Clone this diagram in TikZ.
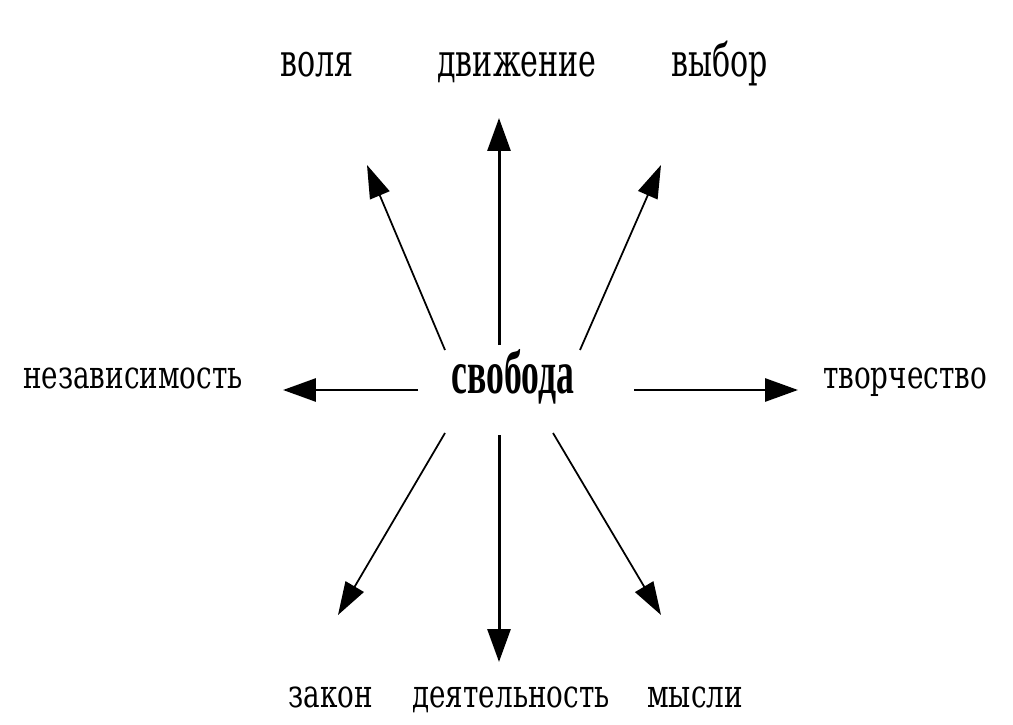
\documentclass[tikz,border=0pt]{standalone}
\usepackage{fontspec}
\usetikzlibrary{arrows.meta}
\newfontfamily\wordfont{DejaVu Serif}[FakeStretch=0.72]
\newfontfamily\topwordfont{DejaVu Serif}[FakeStretch=0.66]
\newfontfamily\hubfont{Liberation Serif}[FakeStretch=0.58]
\tikzset{
  word/.style={anchor=base,inner sep=0pt,font=\wordfont\fontsize{22}{26}\selectfont},
  topword/.style={anchor=base,inner sep=0pt,font=\topwordfont\fontsize{26}{30}\selectfont},
  hub/.style={anchor=base,inner sep=0pt,font=\hubfont\bfseries\fontsize{35}{40}\selectfont},
  ray/.style={line width=1.7pt,-{Triangle[length=6.6mm,width=4.6mm]}},
  thinray/.style={line width=1pt,-{Triangle[length=6.6mm,width=4.2mm]}},
}
\begin{document}
\begin{tikzpicture}[x=0.02cm,y=0.02cm]
    \useasboundingbox (0,0) rectangle (1013,724);
    % the hub and the words round it
    \node[hub] (svoboda) at (513,331) {свобода};
    \node[topword] (volya) at (317,647) {воля};
    \node[topword] (dvizhenie) at (517,647) {движение};
    \node[topword] (vybor) at (720,647) {выбор};
    \node[word] (nezavisimost) at (133,336) {независимость};
    \node[word] (tvorchestvo) at (905,336) {творчество};
    \node[word] (zakon) at (331,17) {закон};
    \node[word] (deyatelnost) at (511,17) {деятельность};
    \node[word] (mysli) at (695,17) {мысли};
    % ends of the rays
    \coordinate (up-s) at (499,379);     \coordinate (up-e) at (499,606);
    \coordinate (ul-s) at (445,374);     \coordinate (ul-e) at (367,559);
    \coordinate (ur-s) at (580,374);     \coordinate (ur-e) at (661,559);
    \coordinate (lt-s) at (418,334);     \coordinate (lt-e) at (283,334);
    \coordinate (rt-s) at (634,334);     \coordinate (rt-e) at (798,334);
    \coordinate (dn-s) at (499,289);     \coordinate (dn-e) at (499,62);
    \coordinate (dl-s) at (445,291);     \coordinate (dl-e) at (338,109);
    \coordinate (dr-s) at (553,291);     \coordinate (dr-e) at (661,109);
    % rays
    \draw[ray] (up-s) -- (up-e);
    \draw[thinray] (ul-s) -- (ul-e);
    \draw[thinray] (ur-s) -- (ur-e);
    \draw[ray] (lt-s) -- (lt-e);
    \draw[ray] (rt-s) -- (rt-e);
    \draw[ray] (dn-s) -- (dn-e);
    \draw[thinray] (dl-s) -- (dl-e);
    \draw[thinray] (dr-s) -- (dr-e);
\end{tikzpicture}
\end{document}
